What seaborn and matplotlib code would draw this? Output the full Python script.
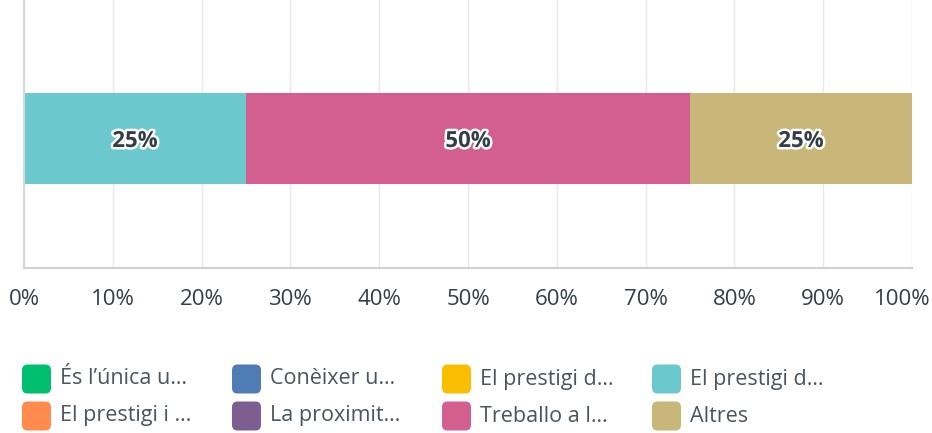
import numpy as np
import pandas as pd
import matplotlib.pyplot as plt
import matplotlib.patheffects as pe
import matplotlib.transforms as mtrans
from matplotlib.patches import FancyBboxPatch
import seaborn as sns

# Answer options (legend order, row by row) and their colours
options = ['És l’única u…', 'Conèixer u…', 'El prestigi d…', 'El prestigi d…',
           'El prestigi i …', 'La proximit…', 'Treballo a l…', 'Altres']
colors = ['#00BF6F', '#507CB6', '#F9BE00', '#6BC8CD',
          '#FF8B4F', '#7D5E90', '#D25F90', '#C9B77A']
# Share of responses per option (%)
shares = [0, 0, 0, 25, 0, 0, 50, 25]

# stacking order along the bar
stack_order = [0, 4, 1, 5, 2, 3, 6, 7]

sns.set_theme(style='white')
plt.rcParams['font.family'] = ['Open Sans', 'DejaVu Sans']

fig = plt.figure(figsize=(9.32, 4.33), dpi=100)
ax = fig.add_axes([24 / 932, 1 - 268 / 433, 888 / 932, 268 / 433])

# cumulative bars, drawn from the longest down so they stack
vals = np.array([shares[i] for i in stack_order], dtype=float)
cum = np.cumsum(vals)
for k in range(len(stack_order) - 1, -1, -1):
    if vals[k] == 0:
        continue
    df = pd.DataFrame({'pct': [cum[k]], 'q': ['Q']})
    sns.barplot(data=df, x='pct', y='q', orient='h', color=colors[stack_order[k]],
                saturation=1, width=0.6, ax=ax, linewidth=0)

# percentage labels in the middle of each segment
for k in range(len(stack_order)):
    if vals[k] == 0:
        continue
    mid = cum[k] - vals[k] / 2
    ax.text(mid, 0.02, f'{int(vals[k])}%', ha='center', va='center', fontsize=16,
            fontweight='bold', color='#333E48',
            path_effects=[pe.withStroke(linewidth=3.5, foreground='white')])

ax.set_xlim(0, 100)
ax.set_ylim(0.854, -0.913)
ax.set_xticks(np.arange(0, 101, 10))
ax.set_xticklabels([f'{t}%' for t in range(0, 101, 10)], fontsize=16, color='#333E48')
ax.tick_params(axis='x', length=0, pad=15)
ax.set_yticks([])
ax.set_xlabel('')
ax.set_ylabel('')
ax.grid(axis='x', color='#E8E8E8', linewidth=1)
ax.set_axisbelow(True)
for s in ['top', 'right']:
    ax.spines[s].set_visible(False)
ax.spines['left'].set_color('#D8D8D8')
ax.spines['left'].set_linewidth(1.5)
ax.spines['bottom'].set_color('#D0D0D0')
ax.spines['bottom'].set_linewidth(1.5)

# keep the last tick label inside the figure
last = ax.get_xticklabels()[-1]
last.set_transform(last.get_transform() + mtrans.ScaledTranslation(-10 / 100, 0, fig.dpi_scale_trans))

# legend: 4 columns, filled row by row
col_x = [22, 232, 442, 652]
row_y = [379, 416]
for i, (lab, c) in enumerate(zip(options, colors)):
    r, cidx = divmod(i, 4)
    x0 = col_x[cidx] / 932
    y0 = 1 - row_y[r] / 433
    w, h = 29 / 932, 29 / 433
    fig.patches.append(FancyBboxPatch((x0, y0 - h / 2), w, h,
                                      boxstyle='round,pad=0,rounding_size=0.006',
                                      transform=fig.transFigure, facecolor=c,
                                      edgecolor='none', mutation_aspect=932 / 433))
    fig.text(x0 + 38 / 932, y0, lab, ha='left', va='center', fontsize=15.5,
             color='#4A5560')

fig.savefig('out.png', dpi=100)
